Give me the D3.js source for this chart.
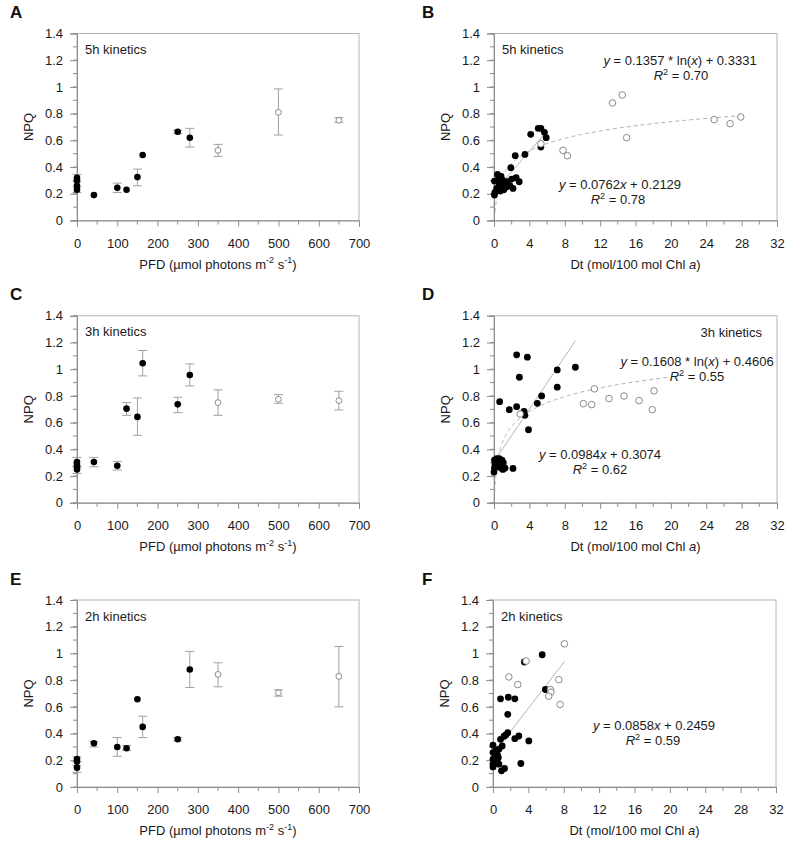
<!DOCTYPE html>
<html><head><meta charset="utf-8">
<script src="https://cdn.jsdelivr.net/npm/d3@7"></script>
<style>body{margin:0;background:#fff}svg{display:block;font-family:"Liberation Sans",Arial,sans-serif}</style>
</head><body><svg id="c" width="788" height="841"></svg>
<script>
// ---------- data ----------
const yTicks = [0, 0.2, 0.4, 0.6, 0.8, 1, 1.2, 1.4];
const yTickLabels = ["0", "0.2", "0.4", "0.6", "0.8", "1", "1.2", "1.4"];
const pfdTicks = [0, 100, 200, 300, 400, 500, 600, 700];
const dtTicks = [0, 4, 8, 12, 16, 20, 24, 28, 32];

// PFD panels: [PFD, NPQ, errLow, errHigh]
const aFilled = [[0,0.32,0.29,0.345],[0,0.30],[0,0.26],[0,0.23,0.21,0.25],[42,0.19],[100,0.245,0.21,0.28],[123,0.23],[150,0.325,0.26,0.385],[163,0.49],[250,0.665,0.65,0.675],[280,0.62,0.55,0.69]];
const aOpen = [[350,0.525,0.48,0.57],[500,0.81,0.64,0.985],[650,0.75,0.735,0.77]];
const cFilled = [[0,0.305,0.27,0.34],[0,0.285],[0,0.27],[0,0.25,0.22,0.27],[42,0.305,0.27,0.34],[100,0.277,0.245,0.31],[123,0.705,0.655,0.75],[150,0.643,0.505,0.785],[163,1.045,0.95,1.14],[250,0.737,0.675,0.79],[280,0.957,0.875,1.04]];
const cOpen = [[350,0.75,0.655,0.845],[500,0.775,0.745,0.81],[650,0.765,0.695,0.835]];
const eFilled = [[0,0.21,0.19,0.225],[0,0.19],[0,0.145,0.11,0.16],[42,0.327,0.30,0.34],[100,0.30,0.23,0.37],[123,0.29,0.275,0.31],[150,0.657],[163,0.45,0.37,0.53],[250,0.357,0.345,0.37],[280,0.88,0.745,1.015]];
const eOpen = [[350,0.843,0.75,0.93],[500,0.705,0.68,0.728],[650,0.828,0.60,1.052]];

// Dt panels: [Dt, NPQ]
const bFilled = [[0.05,0.19],[0.1,0.21],[0.05,0.295],[0.3,0.24],[0.4,0.345],[0.5,0.31],[0.6,0.27],[0.7,0.22],[0.8,0.33],[0.9,0.25],[1.0,0.30],[1.1,0.23],[1.2,0.28],[1.4,0.25],[1.5,0.29],[1.8,0.26],[2.0,0.31],[2.15,0.24],[2.5,0.32],[2.85,0.29],[1.9,0.395],[2.4,0.485],[3.5,0.495],[4.15,0.645],[5.0,0.69],[5.3,0.69],[5.7,0.66],[5.9,0.62],[5.3,0.55]];
const bOpen = [[5.3,0.575],[7.8,0.525],[8.3,0.485],[13.4,0.88],[14.5,0.94],[15.0,0.62],[24.9,0.755],[26.7,0.725],[27.9,0.775]];
const dFilled = [[0,0.23],[0.05,0.26],[0.1,0.29],[0.05,0.32],[0.2,0.30],[0.3,0.33],[0.4,0.27],[0.5,0.31],[0.6,0.33],[0.7,0.29],[0.8,0.26],[0.9,0.32],[1.05,0.30],[1.0,0.25],[1.25,0.26],[2.15,0.257],[0.64,0.757],[1.73,0.697],[2.56,0.72],[3.4,0.685],[3.5,0.655],[3.9,0.547],[4.9,0.745],[5.39,0.80],[7.15,0.866],[7.15,0.995],[9.2,1.015],[2.87,0.94],[2.56,1.108],[3.77,1.09]];
const dOpen = [[2.95,0.665],[10.1,0.742],[11.05,0.735],[11.35,0.853],[13.0,0.78],[14.7,0.80],[16.4,0.765],[17.9,0.697],[18.1,0.838]];
const fFilled = [[0,0.313],[0,0.258],[0,0.208],[0,0.171],[0,0.15],[0.28,0.233],[0.47,0.196],[0.66,0.283],[0.66,0.171],[0.3,0.27],[0.5,0.24],[0.6,0.22],[0.2,0.19],[1.04,0.307],[0.85,0.357],[1.25,0.38],[0.96,0.121],[1.3,0.139],[3.15,0.176],[1.45,0.39],[1.67,0.407],[2.92,0.382],[2.47,0.362],[4.05,0.345],[1.67,0.544],[0.85,0.66],[1.73,0.672],[2.47,0.66],[5.93,0.73],[5.56,0.99],[3.55,0.936]];
const fOpen = [[3.75,0.943],[8.08,1.072],[1.79,0.824],[2.8,0.767],[7.44,0.804],[6.5,0.73],[6.55,0.71],[6.3,0.68],[7.59,0.618]];

// fitted trendlines (coefficients and drawn x-range)
const bLinear = {slope:0.0762, intercept:0.2129, range:[0,5.9]};
const bLog = {a:0.1357, b:0.3331, range:[0.136,28]};
const dLinear = {slope:0.0984, intercept:0.3074, range:[0,9.2]};
const dLog = {a:0.1608, b:0.4606, range:[0.094,19.9]};
const fLinear = {slope:0.0858, intercept:0.2459, range:[0,8.1]};

const panelLabels = ["A","B","C","D","E","F"];
const kineticsLabels = ["5h kinetics","5h kinetics","3h kinetics","3h kinetics","2h kinetics","2h kinetics"];

// ---------- drawing ----------
const svg = d3.select("#c");
const FS = 13;
const axisGray = "#8c8c8c";

function addRich(sel, parts, size) {
  parts.forEach(p => {
    const t = sel.append("tspan").text(p.t);
    if (p.i) t.attr("font-style","italic");
    if (p.sup) t.attr("font-size", size*0.7).attr("dy", -size*0.4);
    if (p.after) t.attr("dy", size*0.4);
  });
}

function panel(cfg) {
  const g = svg.append("g");
  const x = d3.scaleLinear().domain(cfg.xDomain).range([cfg.left, cfg.left + cfg.w]);
  const y = d3.scaleLinear().domain([0,1.4]).range([cfg.top + cfg.h, cfg.top]);
  const bottom = cfg.top + cfg.h;

  // frame
  g.append("rect").attr("x", cfg.left).attr("y", cfg.top).attr("width", cfg.w).attr("height", cfg.h)
    .attr("fill","none").attr("stroke","#b4b4b4").attr("stroke-width",1);

  // y axis
  const yMinor = d3.range(0, 1.41, 0.1);
  g.selectAll(".ymin").data(yMinor).join("line")
    .attr("x1", cfg.left - 4).attr("x2", cfg.left).attr("y1", d => y(d)).attr("y2", d => y(d))
    .attr("stroke", axisGray);
  const yAxis = d3.axisLeft(y).tickValues(yTicks).tickSize(7).tickPadding(7)
    .tickFormat((d,i) => yTickLabels[i]);
  const ya = g.append("g").attr("transform", `translate(${cfg.left},0)`).call(yAxis);
  ya.select(".domain").attr("stroke", axisGray);
  ya.selectAll(".tick line").attr("stroke", axisGray);
  ya.selectAll(".tick text").attr("font-size", FS).attr("fill","#1a1a1a").attr("font-family","Liberation Sans, Arial, sans-serif");

  // x axis
  g.selectAll(".xmin").data(cfg.xMinor).join("line")
    .attr("y1", bottom).attr("y2", bottom + 4).attr("x1", d => x(d)).attr("x2", d => x(d))
    .attr("stroke", axisGray);
  const xAxis = d3.axisBottom(x).tickValues(cfg.xTicks).tickSize(6).tickPadding(12).tickFormat(d3.format("d"));
  const xa = g.append("g").attr("transform", `translate(0,${bottom})`).call(xAxis);
  xa.select(".domain").attr("stroke", axisGray);
  xa.selectAll(".tick line").attr("stroke", axisGray);
  xa.selectAll(".tick text").attr("font-size", FS).attr("fill","#1a1a1a").attr("font-family","Liberation Sans, Arial, sans-serif");

  // axis titles
  const xt = g.append("text").attr("x", cfg.left + cfg.w/2).attr("y", bottom + 48)
    .attr("text-anchor","middle").attr("font-size", FS).attr("fill","#1a1a1a");
  addRich(xt, cfg.xTitle, FS);
  g.append("text").attr("transform", `translate(${cfg.left - 44},${cfg.top + cfg.h/2}) rotate(-90)`)
    .attr("text-anchor","middle").attr("font-size", FS).attr("fill","#1a1a1a").text("NPQ");

  // panel label
  g.append("text").attr("x", cfg.labelX).attr("y", cfg.top - 15.5).attr("font-size", 17)
    .attr("font-weight","bold").attr("fill","#111").text(cfg.label);

  // kinetics label
  g.append("text").attr("x", cfg.kinAnchor === "end" ? cfg.left + cfg.w - 15 : cfg.left + 8)
    .attr("y", cfg.top + cfg.kinDy).attr("text-anchor", cfg.kinAnchor || "start")
    .attr("font-size", FS).attr("fill","#1a1a1a").text(cfg.kinetics);

  // trendlines
  if (cfg.linear) {
    const L = cfg.linear;
    g.append("line").attr("x1", x(L.range[0])).attr("x2", x(L.range[1]))
      .attr("y1", y(L.slope*L.range[0] + L.intercept)).attr("y2", y(L.slope*L.range[1] + L.intercept))
      .attr("stroke","#b5b5b5").attr("stroke-width",1);
  }
  if (cfg.log) {
    const Lg = cfg.log;
    const xs = d3.range(0, 201).map(i => Lg.range[0] * Math.pow(Lg.range[1]/Lg.range[0], i/200));
    g.append("path").attr("d", d3.line().x(d => x(d)).y(d => y(Lg.a*Math.log(d) + Lg.b))(xs))
      .attr("fill","none").attr("stroke","#b0b0b0").attr("stroke-width",1).attr("stroke-dasharray","4,3");
  }

  // error bars
  const withErr = cfg.filled.concat(cfg.open).filter(d => d.length > 2);
  const eg = g.append("g").attr("stroke","#a0a0a0").attr("stroke-width",1);
  withErr.forEach(d => {
    eg.append("line").attr("x1", x(d[0])).attr("x2", x(d[0])).attr("y1", y(d[2])).attr("y2", y(d[3]));
    [d[2], d[3]].forEach(v => eg.append("line").attr("x1", x(d[0]) - 4.5).attr("x2", x(d[0]) + 4.5)
      .attr("y1", y(v)).attr("y2", y(v)));
  });

  // points
  g.selectAll(".f").data(cfg.filled).join("circle")
    .attr("cx", d => x(d[0])).attr("cy", d => y(d[1])).attr("r", cfg.rF).attr("fill","#000");
  g.selectAll(".o").data(cfg.open).join("circle")
    .attr("cx", d => x(d[0])).attr("cy", d => y(d[1])).attr("r", cfg.rO)
    .attr("fill","#fff").attr("stroke","#8a8a8a").attr("stroke-width",1);

  // equations
  (cfg.eqs || []).forEach(e => {
    const t = g.append("text").attr("x", e.x).attr("y", e.y).attr("text-anchor","middle")
      .attr("font-size", FS).attr("fill","#1a1a1a");
    addRich(t, e.parts, FS);
  });
}

const pfdTitle = [{t:"PFD (µmol photons m"},{t:"-2",sup:true},{t:" s",after:true},{t:"-1",sup:true},{t:")",after:true}];
const dtTitle = [{t:"Dt (mol/100 mol Chl "},{t:"a",i:true},{t:")"}];
const pfdMinor = d3.range(50, 700, 100);
const dtMinor = d3.range(2, 32, 4);
const r2 = v => [{t:"R",i:true},{t:"2",sup:true},{t:" = " + v, after:true}];
const linEq = (s,c) => [{t:"y",i:true},{t:" = " + s},{t:"x",i:true},{t:" + " + c}];
const logEq = (a,b) => [{t:"y",i:true},{t:" = " + a + " * ln("},{t:"x",i:true},{t:") + " + b}];

const rows = [33.5, 315.8, 600];
const H = 187;
const colL = {left:77, w:282, labelX:10, xDomain:[0,700], xTicks:pfdTicks, xMinor:pfdMinor, xTitle:pfdTitle, rF:3.3, rO:2.9};
const colR = {left:494, w:283, labelX:422, xDomain:[0,32], xTicks:dtTicks, xMinor:dtMinor, xTitle:dtTitle, rF:3.4, rO:3.3};

panel(Object.assign({}, colL, {top:rows[0], h:H, label:panelLabels[0], kinetics:kineticsLabels[0], kinDy:20.5, filled:aFilled, open:aOpen}));
panel(Object.assign({}, colR, {top:rows[0], h:H, label:panelLabels[1], kinetics:kineticsLabels[1], kinDy:20.5, filled:bFilled, open:bOpen,
  linear:bLinear, log:bLog,
  eqs:[{x:680, y:65, parts:logEq("0.1357","0.3331")},{x:681, y:80, parts:r2("0.70")},
       {x:620, y:189, parts:linEq("0.0762","0.2129")},{x:618, y:204, parts:r2("0.78")}]}));
panel(Object.assign({}, colL, {top:rows[1], h:H, label:panelLabels[2], kinetics:kineticsLabels[2], kinDy:20.5, filled:cFilled, open:cOpen}));
panel(Object.assign({}, colR, {top:rows[1], h:H, label:panelLabels[3], kinetics:kineticsLabels[3], kinDy:21, kinAnchor:"end", filled:dFilled, open:dOpen,
  linear:dLinear, log:dLog,
  eqs:[{x:697, y:366, parts:logEq("0.1608","0.4606")},{x:697, y:381, parts:r2("0.55")},
       {x:600, y:459, parts:linEq("0.0984","0.3074")},{x:600, y:474, parts:r2("0.62")}]}));
panel(Object.assign({}, colL, {top:rows[2], h:H, label:panelLabels[4], kinetics:kineticsLabels[4], kinDy:20.5, filled:eFilled, open:eOpen}));
panel(Object.assign({}, colR, {top:rows[2], h:H, left:493, label:panelLabels[5], kinetics:kineticsLabels[5], kinDy:20.5, filled:fFilled, open:fOpen,
  linear:fLinear,
  eqs:[{x:654, y:730, parts:linEq("0.0858","0.2459")},{x:653, y:745, parts:r2("0.59")}]}));
</script></body></html>
